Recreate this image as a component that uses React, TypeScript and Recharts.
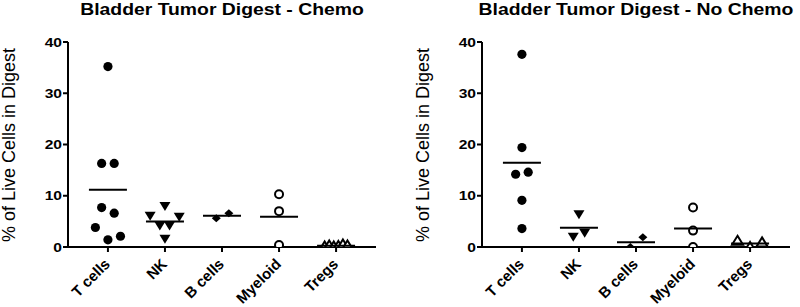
import React from "react";
import { ScatterChart, Scatter, XAxis, YAxis } from "recharts";

const categories = ["T cells", "NK", "B cells", "Myeloid", "Tregs"];
const yTicks = [0, 10, 20, 30, 40];

// Chemo
const chemoTCells = [35.2, 16.3, 16.3, 7.7, 6.6, 3.8, 1.4, 2.1];
const chemoTCellsJitter = [0, -0.11, 0.11, -0.11, 0.11, -0.22, 0, 0.22];
const chemoNK = [8.0, 6.1, 5.9, 4.2, 4.2, 1.6];
const chemoNKJitter = [0, -0.26, 0.25, -0.09, 0.08, 0];
const chemoBCells = [5.6, 6.6];
const chemoBCellsJitter = [-0.1, 0.12];
const chemoMyeloid = [10.3, 7.0, 0.4];
const chemoMyeloidJitter = [0, 0, 0];
const chemoTregs = [0.1, 0.3, 0.1, 0.2, 0.5, 0.3];
const chemoTregsJitter = [-0.2, -0.12, -0.04, 0.04, 0.12, 0.2];

// No chemo
const noChemoTCells = [37.6, 19.4, 14.2, 14.6, 9.1, 3.6];
const noChemoTCellsJitter = [0, 0, -0.11, 0.11, 0, 0];
const noChemoNK = [6.4, 2.0, 2.8];
const noChemoNKJitter = [0, -0.1, 0.1];
const noChemoBCells = [0.0, 1.9];
const noChemoBCellsJitter = [-0.1, 0.12];
const noChemoMyeloid = [7.7, 3.2, 0.0];
const noChemoMyeloidJitter = [0, 0, 0];
const noChemoTregs = [1.2, 0.0, 0.9];
const noChemoTregsJitter = [-0.22, 0, 0.21];

const FONT = "'Liberation Sans', Arial, sans-serif";

type Group = { values: number[]; jitter: number[] };

const filledCircle = (p: any) => <circle cx={p.cx} cy={p.cy} r={4.6} fill="#000" />;
const downTriangle = (p: any) => (
    <polygon
        points={`${p.cx - 5.5},${p.cy - 4} ${p.cx + 5.5},${p.cy - 4} ${p.cx},${p.cy + 5}`}
        fill="#000"
    />
);
const diamond = (p: any) => (
    <polygon
        points={`${p.cx},${p.cy - 4} ${p.cx + 4.5},${p.cy} ${p.cx},${p.cy + 4} ${p.cx - 4.5},${p.cy}`}
        fill="#000"
    />
);
const openCircle = (p: any) => (
    <circle cx={p.cx} cy={p.cy} r={4} fill="#fff" stroke="#000" strokeWidth={2} />
);
const openTriangle = (p: any) => (
    <polygon
        points={`${p.cx},${p.cy - 5} ${p.cx + 5.5},${p.cy + 4} ${p.cx - 5.5},${p.cy + 4}`}
        fill="#fff"
        stroke="#000"
        strokeWidth={2}
    />
);
const meanLine = (p: any) => (
    <line x1={p.cx - 19} x2={p.cx + 19} y1={p.cy} y2={p.cy} stroke="#000" strokeWidth={2} />
);

const SHAPES = [filledCircle, downTriangle, diamond, openCircle, openTriangle];

function CategoryTick({ x, y, payload }: any) {
    return (
        <text
            x={x + 3}
            y={y + 11}
            transform={`rotate(-45, ${x + 3}, ${y + 11})`}
            textAnchor="end"
            fontFamily={FONT}
            fontWeight={700}
            fontSize={15}
            fill="#000"
        >
            {categories[payload.value - 1]}
        </text>
    );
}

function ValueTick({ x, y, payload }: any) {
    return (
        <text
            transform={`translate(${x + 1}, ${y}) scale(1.2, 1)`}
            dy="0.35em"
            textAnchor="end"
            fontFamily={FONT}
            fontWeight={700}
            fontSize={13}
            fill="#000"
        >
            {payload.value}
        </text>
    );
}

function Panel({ title, groups, left, right }: { title: string; groups: Group[]; left: number; right: number }) {
    const W = 400;
    const H = 307;
    const plotLeft = left + 40;
    const plotWidth = W - plotLeft - right;
    const means = groups.map((g, i) => ({
        x: i + 1,
        y: g.values.reduce((s, v) => s + v, 0) / g.values.length,
    }));
    return (
        <div style={{ position: "relative", width: W, height: H }}>
            <ScatterChart width={W} height={H} margin={{ top: 42, right, bottom: 0, left }}>
                <XAxis
                    type="number"
                    dataKey="x"
                    domain={[0.3, 5.7]}
                    ticks={[1, 2, 3, 4, 5]}
                    tick={<CategoryTick />}
                    tickSize={5}
                    height={60}
                    axisLine={{ stroke: "#000", strokeWidth: 2 }}
                    tickLine={{ stroke: "#000", strokeWidth: 2 }}
                    allowDataOverflow
                />
                <YAxis
                    type="number"
                    dataKey="y"
                    domain={[0, 40]}
                    ticks={yTicks}
                    width={40}
                    tickSize={5}
                    axisLine={{ stroke: "#000", strokeWidth: 2 }}
                    tickLine={{ stroke: "#000", strokeWidth: 2 }}
                    tick={<ValueTick />}
                    allowDataOverflow
                />
                {groups.map((g, gi) => (
                    <Scatter
                        key={gi}
                        data={g.values.map((v, i) => ({ x: gi + 1 + g.jitter[i], y: v }))}
                        shape={SHAPES[gi]}
                        isAnimationActive={false}
                    />
                ))}
                <Scatter data={means} shape={meanLine} isAnimationActive={false} />
            </ScatterChart>
            <div
                style={{
                    position: "absolute",
                    left: plotLeft,
                    width: plotWidth,
                    top: 2,
                    textAlign: "center",
                    fontFamily: FONT,
                    fontWeight: 700,
                    fontSize: 16,
                    lineHeight: "16px",
                    whiteSpace: "nowrap",
                    transform: "scaleX(1.21)",
                }}
            >
                {title}
            </div>
            <div
                style={{
                    position: "absolute",
                    left: left - 19,
                    top: 145,
                    transform: "translate(-50%, -50%) rotate(-90deg)",
                    fontFamily: FONT,
                    fontSize: 18,
                    whiteSpace: "nowrap",
                }}
            >
                % of Live Cells in Digest
            </div>
        </div>
    );
}

export default function App() {
    const chemo: Group[] = [
        { values: chemoTCells, jitter: chemoTCellsJitter },
        { values: chemoNK, jitter: chemoNKJitter },
        { values: chemoBCells, jitter: chemoBCellsJitter },
        { values: chemoMyeloid, jitter: chemoMyeloidJitter },
        { values: chemoTregs, jitter: chemoTregsJitter },
    ];
    const noChemo: Group[] = [
        { values: noChemoTCells, jitter: noChemoTCellsJitter },
        { values: noChemoNK, jitter: noChemoNKJitter },
        { values: noChemoBCells, jitter: noChemoBCellsJitter },
        { values: noChemoMyeloid, jitter: noChemoMyeloidJitter },
        { values: noChemoTregs, jitter: noChemoTregsJitter },
    ];
    return (
        <div style={{ position: "absolute", left: 0, top: 0, display: "flex", background: "#fff" }}>
            <Panel title="Bladder Tumor Digest - Chemo" groups={chemo} left={28} right={24} />
            <Panel title="Bladder Tumor Digest - No Chemo" groups={noChemo} left={42} right={10} />
        </div>
    );
}
